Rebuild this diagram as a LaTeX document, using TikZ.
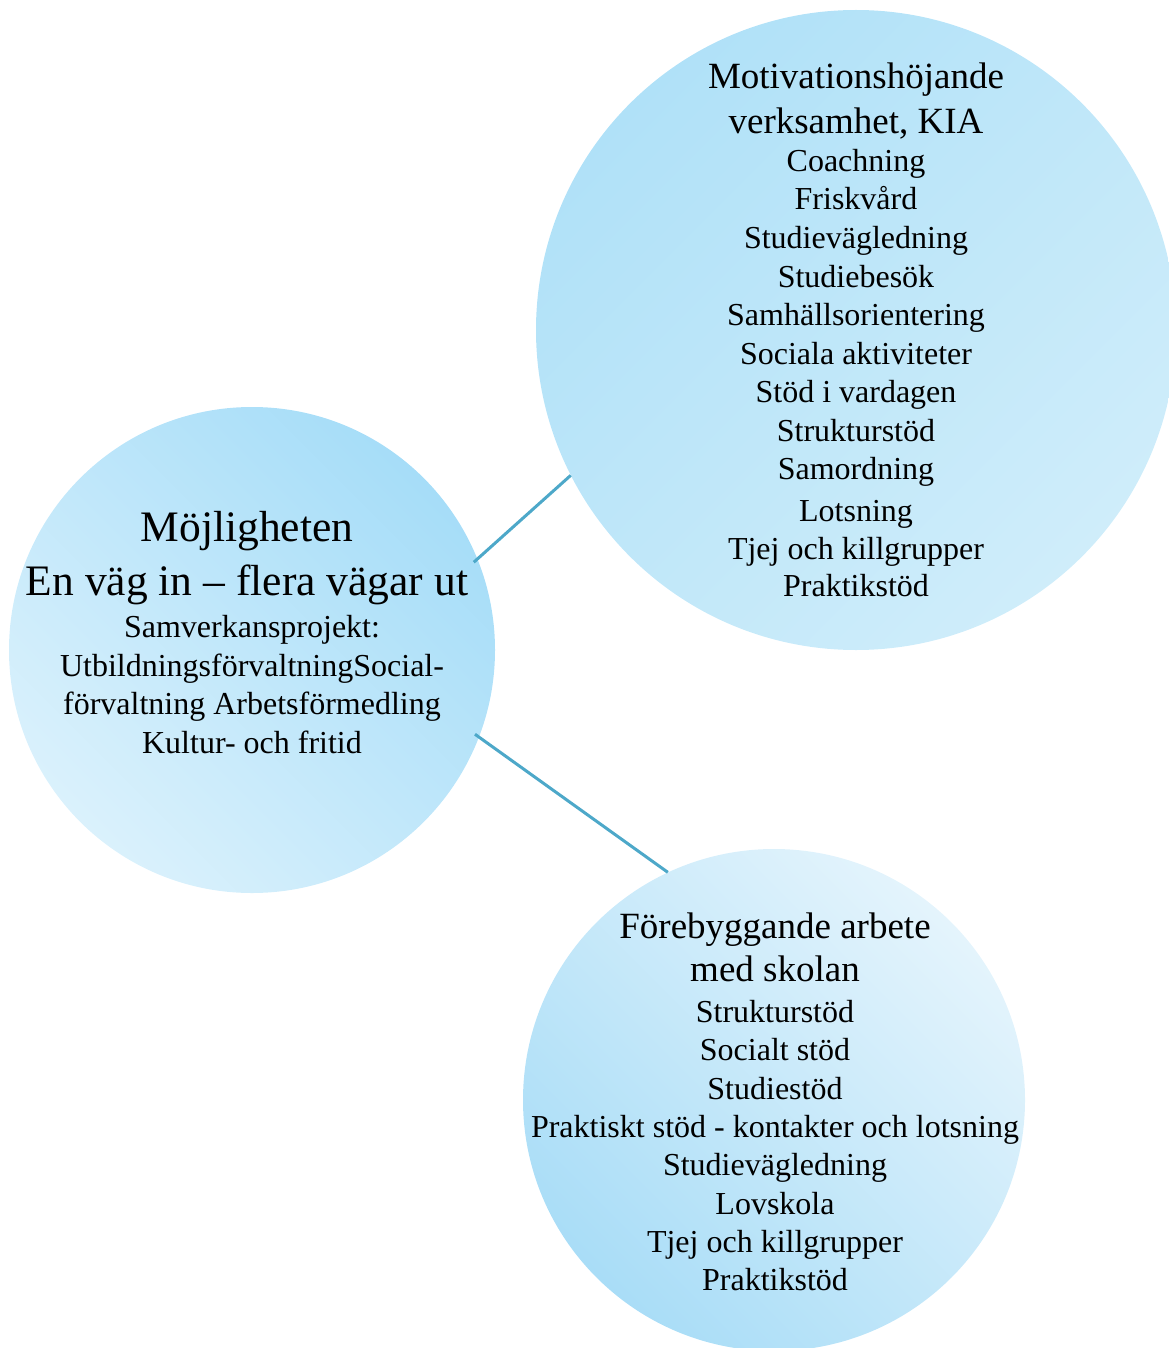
\documentclass[tikz,border=0pt]{standalone}
\usepackage{fontspec}
\setmainfont{Liberation Serif}
\definecolor{kiaDark}{HTML}{B0E1F8}
\definecolor{kiaLight}{HTML}{CFEDFA}
\definecolor{mojDark}{HTML}{A6DDF8}
\definecolor{mojLight}{HTML}{DAF1FC}
\definecolor{forDark}{HTML}{A9DDF7}
\definecolor{forLight}{HTML}{E4F4FC}
\definecolor{linkBlue}{HTML}{4DA8C9}
\begin{document}
\begin{tikzpicture}[x=1pt,y=-1pt,
  bubble/.style={circle, inner sep=0pt, draw=none},
  link/.style={draw=linkBlue, line width=3pt},
  bigtxt/.style={anchor=base, inner sep=0pt, font=\fontsize{37}{45}\selectfont},
  hugetxt/.style={anchor=base, inner sep=0pt, font=\fontsize{43.5}{54}\selectfont},
  smalltxt/.style={anchor=base, inner sep=0pt, font=\fontsize{32}{38}\selectfont}]
\useasboundingbox (0,0) rectangle (1168,1348);
% circles
\node[bubble, minimum size=640pt, top color=kiaDark, bottom color=kiaLight, shading angle=45] (kia) at (856,330) {};
\node[bubble, minimum size=486pt, top color=mojDark, bottom color=mojLight, shading angle=-45] (moj) at (252,650) {};
\node[bubble, minimum size=502pt, top color=forLight, bottom color=forDark, shading angle=-45] (for) at (774,1100) {};
% connectors
\draw[link, shorten <=-5pt] (moj.22.7) -- (kia.207.5);
\draw[link, shorten <=-5pt] (moj.-21.3) -- (for.115.7);
% top-right text
\node[bigtxt] (k1) at (856,89) {Motivationshöjande};
\node[bigtxt] (k2) at (856,134) {verksamhet, KIA};
\foreach \t/\y [count=\i] in {Coachning/172, Friskvård/210, Studievägledning/249, Studiebesök/287, Samhällsorientering/325, Sociala aktiviteter/364, Stöd i vardagen/402, Strukturstöd/441, Samordning/479, Lotsning/521, Tjej och killgrupper/559, Praktikstöd/596}
  \node[smalltxt] (ks\i) at (856,\y) {\t};
% left text
\node[hugetxt] (m1) at (247,541) {Möjligheten};
\node[hugetxt] (m2) at (247,595) {En väg in – flera vägar ut};
\foreach \t/\y [count=\i] in {Samverkansprojekt:/637, UtbildningsförvaltningSocial-/676, förvaltning Arbetsförmedling/714, Kultur- och fritid/753}
  \node[smalltxt] (ms\i) at (252,\y) {\t};
% bottom text
\node[bigtxt] (f1) at (775,938) {Förebyggande arbete};
\node[bigtxt] (f2) at (775,981) {med skolan};
\foreach \t/\y [count=\i] in {Strukturstöd/1022, Socialt stöd/1060, Studiestöd/1099, Praktiskt stöd - kontakter och lotsning/1137, Studievägledning/1175, Lovskola/1214, Tjej och killgrupper/1252, Praktikstöd/1290}
  \node[smalltxt] (fs\i) at (775,\y) {\t};
\end{tikzpicture}
\end{document}
